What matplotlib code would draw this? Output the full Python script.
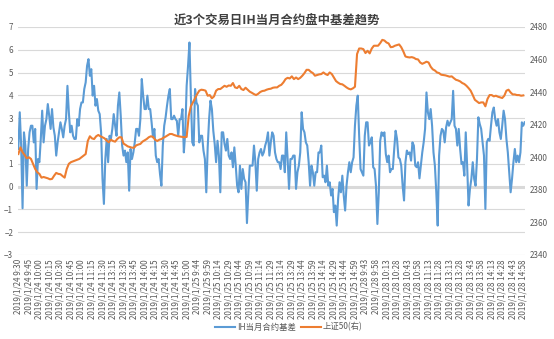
import numpy as np
import matplotlib
matplotlib.use("Agg")
import matplotlib.pyplot as plt

plt.rcParams['font.family'] = ['Noto Sans CJK SC', 'DejaVu Sans']

title = "近3个交易日IH当月合约盘中基差趋势"
basis_label = "IH当月合约基差"
index_label = "上证50(右)"

# category labels, one every 15 one-minute bars
tick_labels = (
    ["2019/1/24 " + t for t in ["9:30", "9:45", "10:00", "10:15", "10:30", "10:45", "11:00",
                                "11:15", "11:30", "13:15", "13:30", "13:45", "14:00", "14:15",
                                "14:30", "14:45", "15:00"]]
    + ["2019/1/25 " + t for t in ["9:44", "9:59", "10:14", "10:29", "10:44", "10:59", "11:14",
                                  "11:29", "13:14", "13:29", "13:44", "13:59", "14:14", "14:29",
                                  "14:44", "14:59"]]
    + ["2019/1/28 " + t for t in ["9:43", "9:58", "10:13", "10:28", "10:43", "10:58", "11:13",
                                  "11:28", "13:13", "13:28", "13:43", "13:58", "14:13", "14:28",
                                  "14:43", "14:58"]]
)
n_bars = 723          # one-minute bars over the three sessions
basis_step = 2        # minutes between stored basis samples
sz50_step = 3         # minutes between stored index samples

# IH front-month basis (left axis), sampled every 2 minutes
basis = [
    1.65, 3.26, 1.80, -0.95, 2.38, 1.80, 0.04, 1.65, 2.38, 2.67,
    2.67, 1.94, 2.53, -0.10, 1.21, 1.07, 2.09, 3.33, 1.94, 2.67,
    2.96, 3.62, 3.11, 2.53, 3.40, 2.60, 2.23, 1.36, 1.94, 2.38,
    2.82, 2.53, 2.16, 2.67, 2.96, 4.42, 3.26, 2.38, 2.67, 2.23,
    2.09, 2.09, 2.96, 2.67, 3.40, 3.69, 3.69, 4.28, 4.57, 5.30,
    5.59, 4.86, 5.15, 3.99, 4.42, 3.55, 3.84, 3.33, 3.18, 2.38,
    0.34,
    -0.76, 1.21, 2.09, 1.07, 2.23, 2.09, 2.53, 3.18, 2.67,
    2.23, 3.55, 4.13, 3.11, 1.80, 1.36, 1.58, 1.07, 1.50, -0.18,
    1.65, 1.21, 1.50, 1.94, 2.53, 2.53, 2.23, 2.96, 4.72, 3.99,
    3.40, 3.40, 3.99, 3.40, 3.40, 2.82, 2.16, 2.53, 1.36, 1.07,
    1.21, 0.55, 0.04, 1.80, 2.67, 3.04, 3.55, 3.99, 4.28, 2.96,
    2.96, 3.11, 2.96, 2.89, 2.23, 2.96, 2.96, 3.40, 1.50, 2.38,
    4.42, 5.30, 6.32,
    3.99, 1.94, 1.80, 4.28, 3.69, 3.55, 1.94, 2.23,
    2.23, 1.58, 1.21, -0.25, 1.72, 2.96, 3.77, 3.40, 2.45, 1.87,
    1.07, 2.01, 1.36, -0.25, 2.38, 2.38, 1.87, 1.58, 2.09, 1.36,
    1.21, 1.50, 0.85, 1.72, 0.92, 0.04, -0.25, 0.92, -0.10, 0.77,
    0.34, 0.19, -1.60, -0.25, 0.92, 0.92, 0.92, 1.80, 1.07, -0.18,
    1.21, 1.50, 1.65, 1.36, 1.50, 1.80, 2.01, 2.38, 1.36, 1.94,
    2.38,
    2.23, 1.50, 1.21, 1.07, 1.07, 0.77, 1.36, 1.36, 0.63,
    2.38, 1.21, -0.10, 1.21, 1.21, 1.36, 1.36, -0.10, 0.63, 0.92,
    1.50, 3.26, 2.53, 2.38, 1.94, 1.80, 1.07, 0.04, 0.92, 0.63,
    0.04, 0.63, 0.63, 1.50, 1.50, 1.80, 0.41, 0.48, 0.19, 0.92,
    0.04, 0.19, -0.39, -0.10, -1.12, -0.83, -1.71, -0.54, 0.19, -0.25,
    0.48, -0.39, -1.05, 0.04, 0.63, 1.07, 0.63, 1.07, 1.28, 2.67,
    3.55, 3.99,
    2.23, 0.77, 0.63, 0.48, 2.23, 2.82, 2.82, 1.80,
    1.94, 2.16, 0.85, 0.77, 0.04, -1.64, -0.25, 2.01, 2.38, 2.23,
    2.38, 1.43, 1.07, 1.36, 0.63, 0.77, 0.77, 1.65, 2.45, 2.09,
    1.28, 1.21, 0.92, 0.04, -0.61, 1.07, 1.58, 1.43, 1.50, 1.14,
    1.94, 1.80, 0.92, 0.85, 1.07, 0.36, 0.92, 1.50, 1.94, 2.53,
    4.13, 3.26, 2.96, 3.40, 2.67, 1.50, 0.92, -0.25, -1.71, 1.36,
    2.23, 2.53, 2.45, 1.94, 2.60, 2.89, 2.67,
    2.82, 2.96, 4.20, 2.67, 2.53, 1.80, 2.53, 1.65, 0.99, 1.07,
    0.48, 2.38, 0.92, -0.83, -0.10, 0.34, 1.07, 0.34, 0.04, 1.21,
    3.04, 2.74, 2.53, 1.94, 1.36, -0.98, 1.94, 2.09, 2.01, 2.67,
    3.26, 3.47, 2.96, 2.67, 2.96, 2.38, 2.09, 2.67, 3.33, 2.96,
    2.09, 1.50, 0.63, -0.25, 0.34, 1.07, 1.65, 1.07, 1.36, 1.07,
    1.50, 2.82, 2.67, 2.82,
]

# SSE 50 index level (right axis), sampled every 3 minutes
sz50 = [
    2402.0, 2406.1, 2403.1, 2401.4, 2399.4, 2400.0, 2399.0, 2395.9, 2392.8, 2390.8,
    2389.8, 2387.5, 2387.9, 2387.5, 2387.1, 2386.5, 2386.7, 2388.7, 2390.4, 2389.8,
    2389.6, 2388.5, 2387.5, 2392.8, 2396.0, 2397.0, 2397.5, 2398.0, 2398.5, 2399.0,
    2400.0, 2401.0, 2402.0, 2410.0, 2412.9, 2411.6, 2411.2, 2412.9, 2413.7, 2412.9,
    2412.3, 2411.6, 2410.2, 2409.2, 2410.8, 2410.0, 2409.6, 2411.2, 2412.3, 2412.3,
    2408.4, 2407.6, 2406.7, 2406.3, 2405.9, 2405.9, 2407.3, 2407.8, 2408.2, 2409.6,
    2410.4, 2411.2, 2412.3, 2412.9, 2412.5, 2410.8, 2410.0, 2410.8, 2411.2, 2412.0,
    2412.7, 2413.5, 2414.3, 2414.3, 2413.7, 2413.3, 2412.9, 2412.7, 2412.5, 2412.3,
    2412.5, 2425.5, 2431.3, 2433.7, 2436.2, 2438.8, 2440.9, 2441.5, 2441.3, 2440.9,
    2437.8, 2438.2, 2436.2, 2437.4, 2440.9, 2441.9, 2441.9, 2442.9, 2443.9, 2443.3,
    2444.1, 2443.9, 2445.6, 2442.9, 2442.5, 2443.9, 2441.9, 2441.3, 2442.7, 2441.5,
    2440.3, 2439.6, 2438.8, 2438.2, 2439.0, 2440.1, 2440.7, 2440.9, 2441.5, 2441.9,
    2442.1, 2442.7, 2442.9, 2442.9, 2443.9, 2444.5, 2446.0, 2448.0, 2448.8, 2448.4,
    2449.7, 2448.0, 2449.0, 2448.0, 2448.8, 2450.1, 2451.7, 2453.7, 2453.7, 2452.5,
    2451.7, 2450.1, 2450.5, 2450.9, 2451.1, 2452.1, 2451.1, 2450.5, 2452.1, 2451.1,
    2449.0, 2446.8, 2445.8, 2445.0, 2444.8, 2443.9, 2442.9, 2442.1, 2441.7, 2442.3,
    2443.3, 2463.4, 2466.8, 2466.8, 2466.4, 2464.0, 2465.4, 2463.8, 2466.8, 2468.5,
    2468.5, 2468.5, 2470.1, 2472.1, 2471.7, 2470.5, 2469.9, 2467.6, 2467.8, 2468.5,
    2468.9, 2469.3, 2467.6, 2465.0, 2461.9, 2461.5, 2461.3, 2461.5, 2461.1, 2460.3,
    2460.1, 2458.2, 2457.4, 2458.0, 2458.7, 2458.2, 2455.6, 2454.0, 2453.3, 2452.1,
    2451.7, 2450.7, 2450.5, 2450.3, 2449.9, 2449.5, 2449.7, 2448.6, 2447.6, 2447.2,
    2446.6, 2445.6, 2445.0, 2443.9, 2442.5, 2440.9, 2438.2, 2435.3, 2434.3, 2433.3,
    2433.7, 2433.7, 2431.3, 2435.8, 2438.2, 2438.2, 2437.4, 2437.8, 2437.2, 2436.8,
    2436.4, 2437.8, 2440.9, 2441.5, 2439.8, 2438.6, 2438.6, 2438.2, 2438.2, 2437.8,
    2438.0,
]

BLUE = "#5B9BD5"
ORANGE = "#ED7D31"
GRID = "#D9D9D9"
TEXT = "#595959"

W, H = 554, 339
fig = plt.figure(figsize=(W / 100, H / 100), dpi=100)
left, right, top, bottom = 18, 525, 27, 255
ax = fig.add_axes([left / W, 1 - bottom / H, (right - left) / W, (bottom - top) / H])

x_basis = np.arange(len(basis)) * basis_step
x_sz50 = np.arange(len(sz50)) * sz50_step

ax.set_ylim(-3, 7)
ax.set_yticks(range(-3, 8))
ax.set_xlim(-0.5, n_bars - 0.5)
ax.yaxis.grid(True, color=GRID, lw=0.8)
ax.set_axisbelow(True)
ax.axhline(0, color=GRID, lw=2.2, zorder=1)
l1, = ax.plot(x_basis, basis, color=BLUE, lw=1.5, zorder=2)

ax.set_xticks(np.arange(len(tick_labels)) * 15)
ax.set_xticklabels(tick_labels, rotation=90, fontsize=5.8, color=TEXT)

ax2 = ax.twinx()
ax2.set_ylim(2340, 2480)
ax2.set_yticks(range(2340, 2481, 20))
l2, = ax2.plot(x_sz50, sz50, color=ORANGE, lw=1.5)

for a in (ax, ax2):
    for s in a.spines.values():
        s.set_visible(False)
    a.tick_params(length=0, labelsize=5.8, labelcolor=TEXT, pad=3.5)
ax.tick_params(axis='x', pad=3)

fig.text(0.5, 1 - 20 / H, title, ha='center', va='center', fontsize=8.9,
         fontweight='bold', color='#404040')

fig.legend([l1, l2], [basis_label, index_label], loc='center',
           bbox_to_anchor=(288.5 / W, 1 - 327 / H), ncol=2, frameon=False,
           fontsize=6, handlelength=2.5, handletextpad=0.15, columnspacing=0.6,
           labelcolor=TEXT)

fig.savefig("out.png", dpi=100)
